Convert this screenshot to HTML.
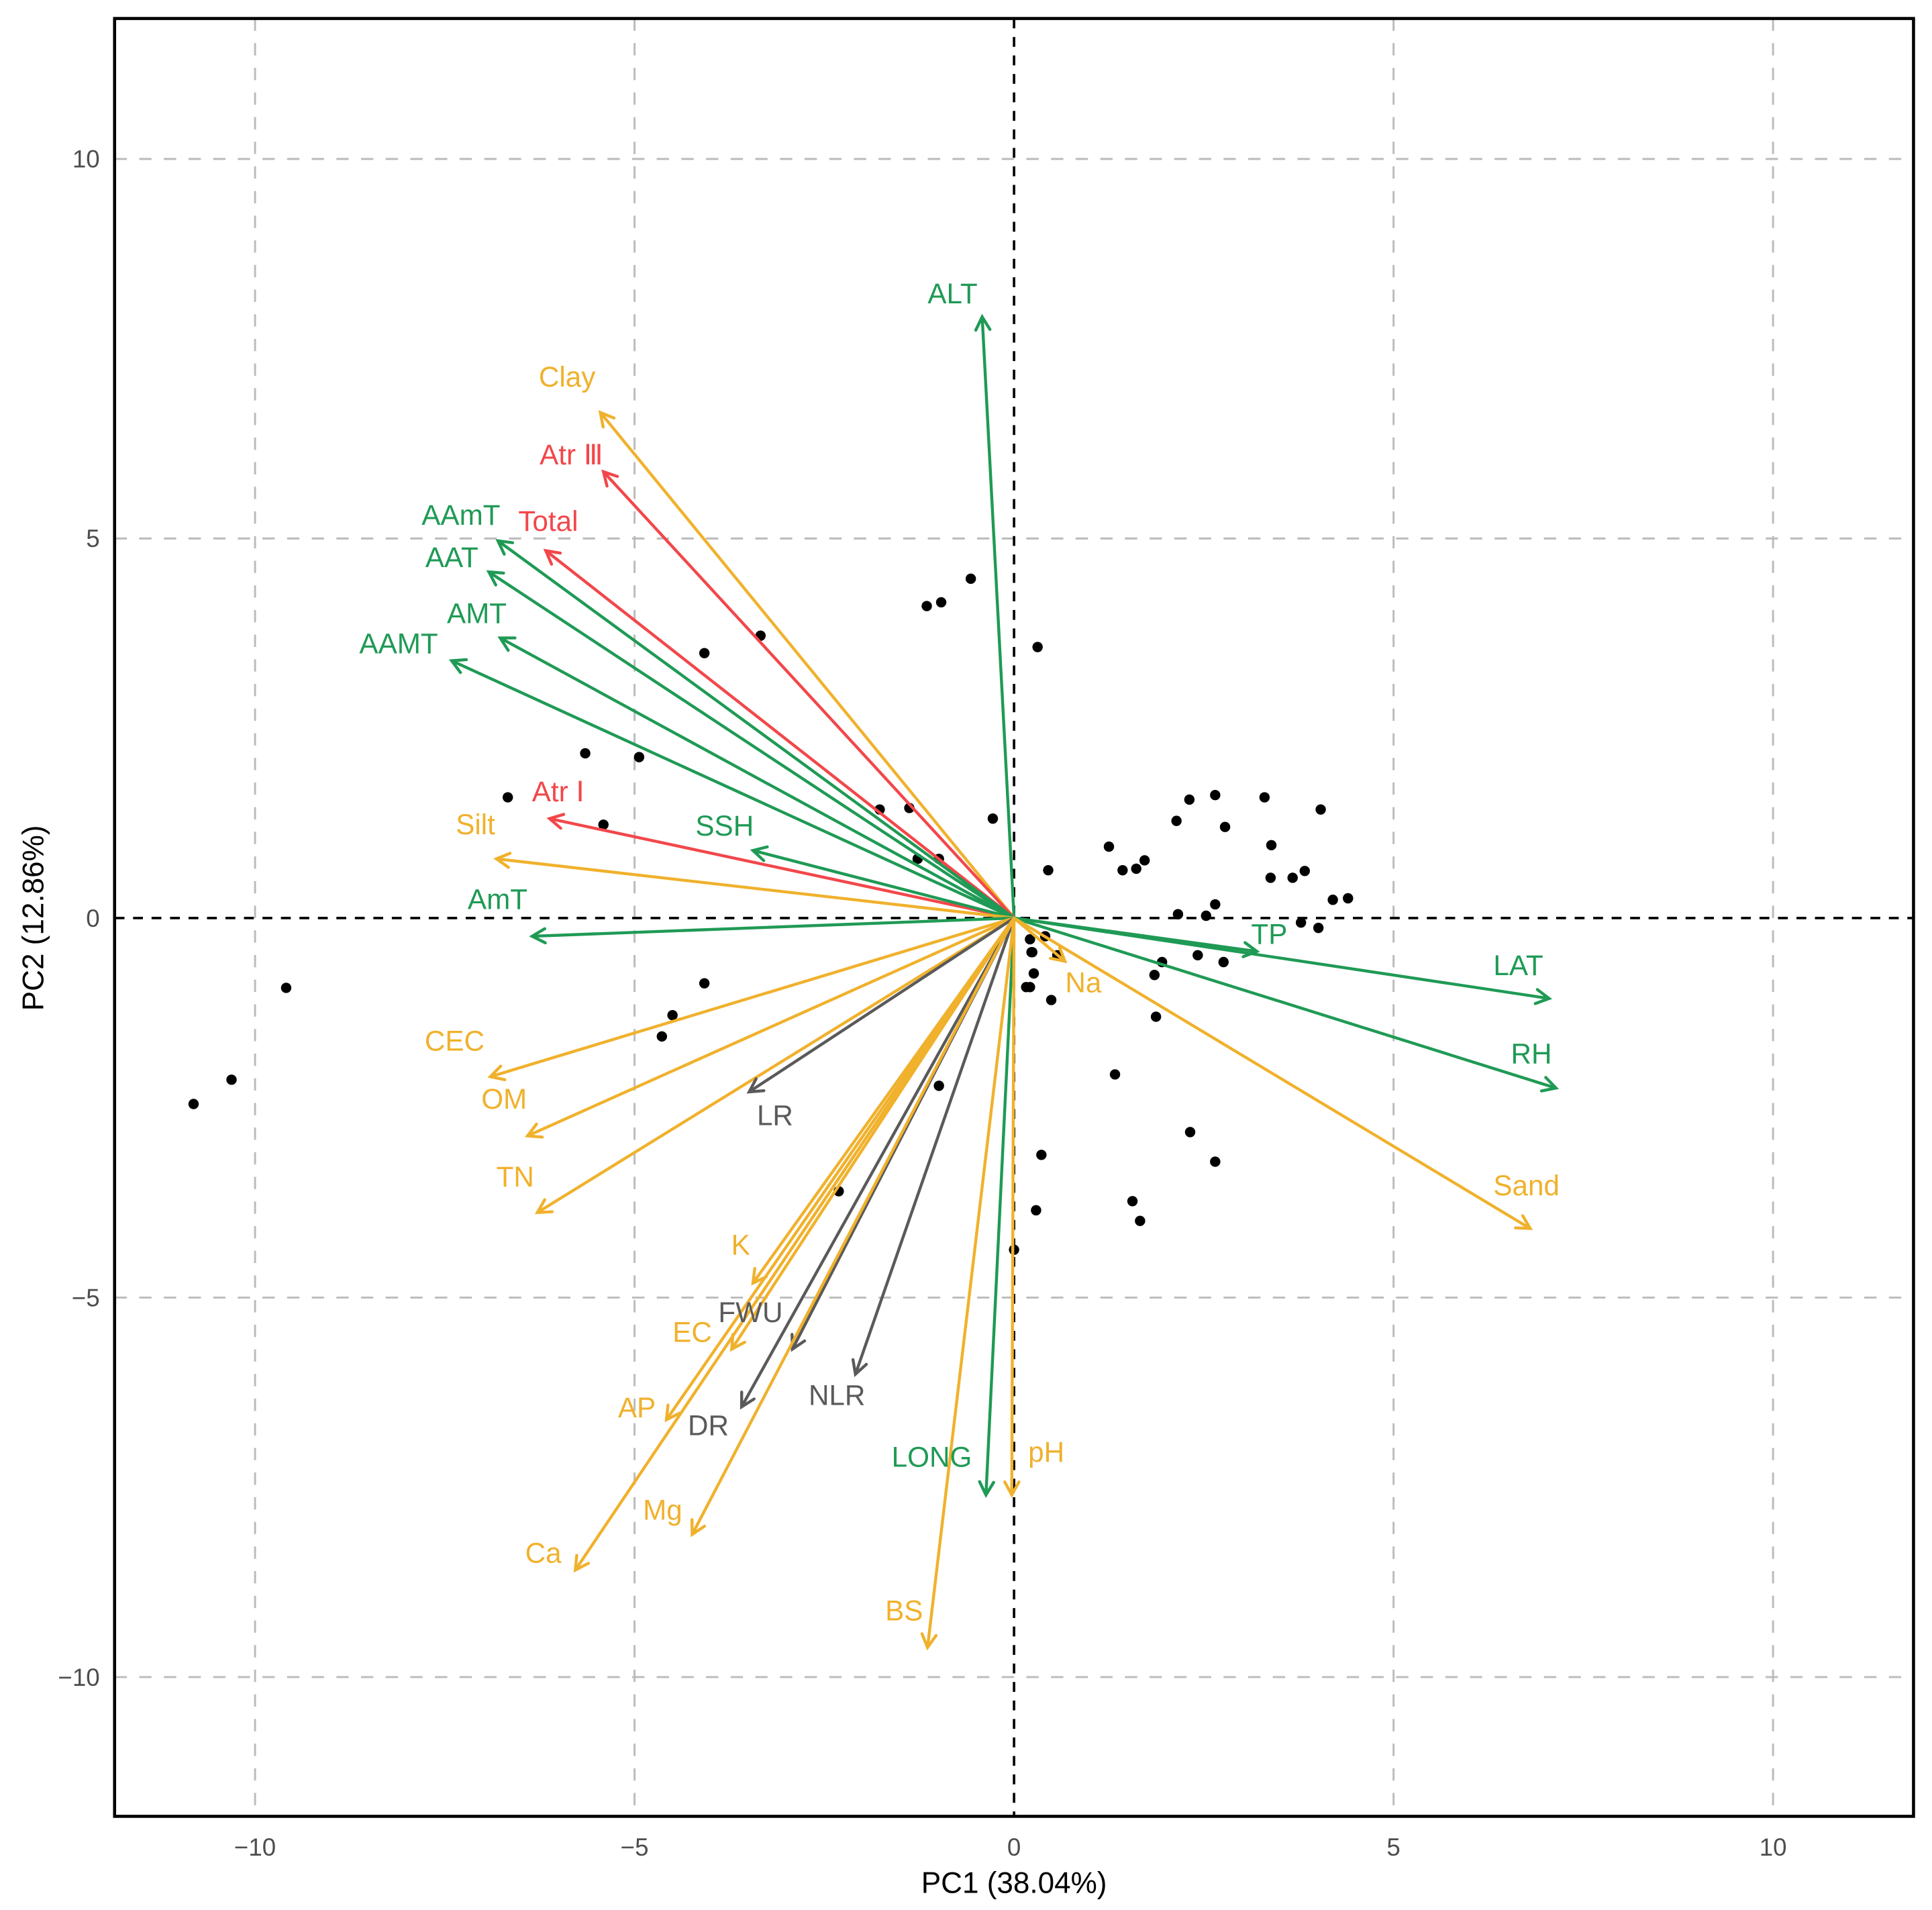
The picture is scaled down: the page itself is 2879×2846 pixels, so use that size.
<!DOCTYPE html>
<html><head><meta charset="utf-8"><style>
html,body{margin:0;padding:0;background:#fff;}
svg{display:block;font-family:"Liberation Sans",Arial,sans-serif;}
</style></head><body>
<svg id="chart" width="2879" height="2846" viewBox="0 0 1568 1550" xmlns="http://www.w3.org/2000/svg">
<rect x="0" y="0" width="1568" height="1550" fill="#fff"/>
<g id="grid"></g>
<g id="refs"></g>
<g id="pts"></g>
<g id="arrows"></g>
<g id="labels"></g>
<rect x="93" y="15" width="1460" height="1459" fill="none" stroke="#000" stroke-width="2.5"/>
<g id="ticks"></g>
<text x="823" y="1536" text-anchor="middle" font-size="24" fill="#000">PC1 (38.04%)</text>
<text transform="translate(35,745) rotate(-90)" text-anchor="middle" font-size="24" fill="#000">PC2 (12.86%)</text>
</svg>
<script>
const xTicks=[-10,-5,0,5,10];
const yTicks=[-10,-5,0,5,10];
const varNames=["ALT","Clay","Atr Ⅲ","Total","AAmT","AAT","AMT","AAMT","Atr Ⅰ","SSH","Silt","AmT","TP","LAT","RH","Sand","Na","CEC","OM","TN","LR","K","EC","FWU","NLR","DR","AP","Mg","Ca","LONG","pH","BS"];
const varGroups=["c","s","r","r","c","c","c","c","r","c","s","c","c","c","c","s","s","s","s","s","g","s","s","g","g","g","s","s","s","c","s","s"];
const pc1Load=[-0.42,-5.45,-5.41,-6.17,-6.80,-6.92,-6.77,-7.41,-6.12,-3.44,-6.82,-6.35,3.20,7.05,7.14,6.80,0.67,-6.90,-6.41,-6.28,-3.49,-3.44,-3.72,-2.92,-2.09,-3.59,-4.58,-4.24,-5.78,-0.37,-0.03,-1.14];
const pc2Load=[7.92,6.66,5.88,4.84,4.97,4.56,3.69,3.39,1.31,0.89,0.78,-0.24,-0.44,-1.06,-2.24,-4.09,-0.57,-2.09,-2.87,-3.88,-2.29,-4.81,-5.68,-5.68,-6.01,-6.44,-6.61,-8.12,-8.59,-7.60,-7.60,-9.61];
const labelDx=[-24,-27,-26,2,-30,-30,-19,-43,7,-23,-17,-28,10,-25,-20,-3,15,-29,-19,-18,21,-10,-32,-34,-15,-27,-24,-24,-26,-44,28,-19];
const labelDy=[-19,-29,-14,-24,-21,-12,-20,-14,-22,-20,-28,-30,-14,-27,-28,-35,17,-29,-30,-29,19,-31,-14,-30,17,15,-10,-20,-14,-31,-35,-30];
const scoreX=[-10.81,-10.31,-9.59,-6.67,-5.65,-4.94,-5.41,-4.08,-3.34,-4.08,-4.50,-4.64,-1.77,-1.38,-1.27,-0.99,-1.15,-0.96,-0.57,-0.28,0.31,0.45,-0.99,-2.31,0,0.21,0.23,0.26,0.21,0.16,0.24,0.41,0.57,0.49,0.36,0.29,1.25,1.43,1.61,1.72,1.33,2.14,2.31,2.65,2.78,2.16,2.53,2.65,2.42,2.76,1.95,1.85,1.87,2.32,2.65,1.56,1.66,3.30,3.39,3.38,3.67,3.83,4.04,4.20,4.40,3.78,4.01];
const scoreY=[-2.45,-2.13,-0.92,1.59,2.17,2.12,1.23,3.49,3.72,-0.86,-1.28,-1.56,1.43,1.45,0.78,0.78,4.11,4.16,4.47,1.31,3.57,0.63,-2.21,-3.60,-4.37,-0.28,-0.45,-0.73,-0.91,-0.91,-0.45,-0.24,-0.49,-1.08,-3.12,-3.85,0.94,0.63,0.65,0.76,-2.06,1.28,1.56,1.62,1.20,0.05,0.03,0.18,-0.49,-0.58,-0.58,-0.75,-1.30,-2.82,-3.21,-3.73,-3.99,1.59,0.96,0.53,0.53,0.62,1.43,0.24,0.26,-0.06,-0.13];

const NS="http://www.w3.org/2000/svg";
const X0=823,Y0=745,U=61.6,L=93,R=1553,T=15,B=1474;
const sx=v=>X0+v*U, sy=v=>Y0-v*U;
const colors={c:"#1f9a55",s:"#f0b12c",r:"#f2474a",g:"#5a5a5a"};
function mk(tag,parent){const e=document.createElementNS(NS,tag);document.getElementById(parent).appendChild(e);return e;}

xTicks.forEach(v=>{
  if(v!==0){const l=mk("line","grid");
  
  
  l.setAttribute("x1",sx(v));l.setAttribute("x2",sx(v));l.setAttribute("y1",T);l.setAttribute("y2",B);
  l.setAttribute("stroke","#bbb");l.setAttribute("stroke-width","1.6");l.setAttribute("stroke-dasharray","10,10");}
  const t=mk("text","ticks");
  
  
  t.setAttribute("x",sx(v));t.setAttribute("y",B+32);t.setAttribute("text-anchor","middle");t.setAttribute("font-size","20");t.setAttribute("fill","#4d4d4d");
  t.textContent=v<0?"\u2212"+(-v):String(v);
});
yTicks.forEach(v=>{
  if(v!==0){const l=mk("line","grid");
  
  
  l.setAttribute("y1",sy(v));l.setAttribute("y2",sy(v));l.setAttribute("x1",L);l.setAttribute("x2",R);
  l.setAttribute("stroke","#bbb");l.setAttribute("stroke-width","1.6");l.setAttribute("stroke-dasharray","10,10");}
  const t=mk("text","ticks");
  
  
  t.setAttribute("x",L-12);t.setAttribute("y",sy(v)+7);t.setAttribute("text-anchor","end");t.setAttribute("font-size","20");t.setAttribute("fill","#4d4d4d");
  t.textContent=v<0?"\u2212"+(-v):String(v);
});
const h=mk("line","refs");


h.setAttribute("x1",L);h.setAttribute("x2",R);h.setAttribute("y1",sy(0));h.setAttribute("y2",sy(0));h.setAttribute("stroke","#000");h.setAttribute("stroke-width","2");h.setAttribute("stroke-dasharray","8,7");
const vv=mk("line","refs");


vv.setAttribute("y1",T);vv.setAttribute("y2",B);vv.setAttribute("x1",sx(0));vv.setAttribute("x2",sx(0));vv.setAttribute("stroke","#000");vv.setAttribute("stroke-width","2");vv.setAttribute("stroke-dasharray","8,7");

scoreX.forEach((x,i)=>{
  const c=mk("circle","pts");
  
  
  c.setAttribute("cx",sx(x));c.setAttribute("cy",sy(scoreY[i]));c.setAttribute("r","4.2");c.setAttribute("fill","#000");
});

varNames.forEach((n,i)=>{
  const col=colors[varGroups[i]];
  const x1=sx(0),y1=sy(0),x2=sx(pc1Load[i]),y2=sy(pc2Load[i]);
  const ang=Math.atan2(y2-y1,x2-x1),hl=12,ha=0.5;
  const p=mk("path","arrows");
  
  
  const ax=x2-hl*Math.cos(ang-ha),ay=y2-hl*Math.sin(ang-ha),bx=x2-hl*Math.cos(ang+ha),by=y2-hl*Math.sin(ang+ha);
  p.setAttribute("d",`M${x1},${y1}L${x2},${y2}M${ax},${ay}L${x2},${y2}L${bx},${by}`);
  p.setAttribute("stroke",col);p.setAttribute("stroke-width","2.4");p.setAttribute("fill","none");p.setAttribute("stroke-linecap","round");
  const t=mk("text","labels");
  
  
  t.setAttribute("x",x2+labelDx[i]);t.setAttribute("y",y2+labelDy[i]+8);t.setAttribute("text-anchor","middle");t.setAttribute("font-size","23");t.setAttribute("fill",col);
  t.textContent=n;
});
</script>
</body></html>
